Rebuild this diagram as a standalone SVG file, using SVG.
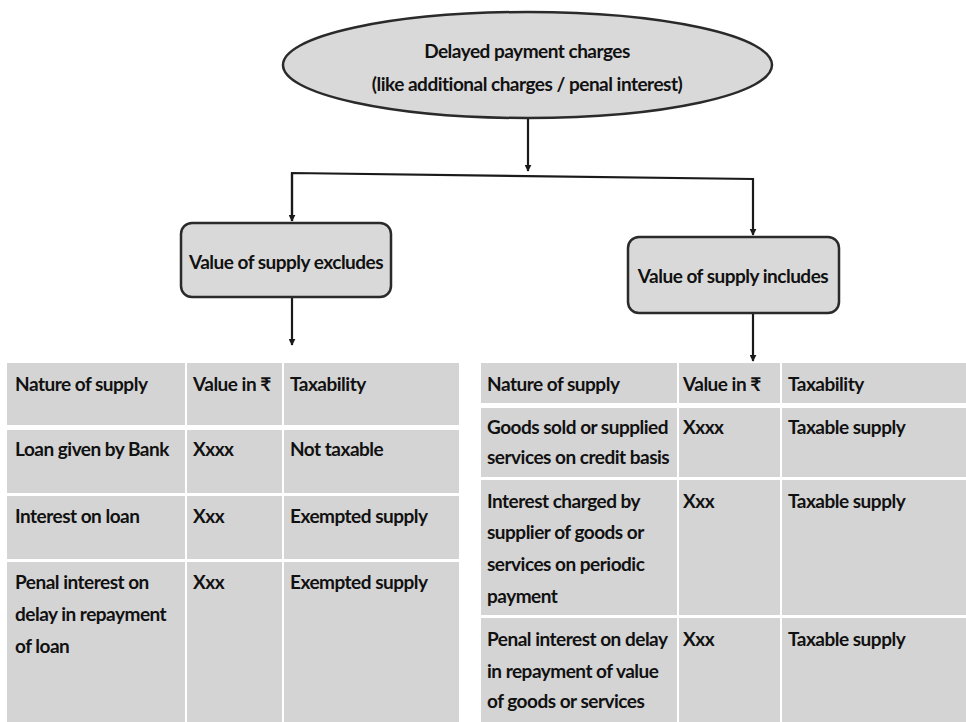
<svg xmlns="http://www.w3.org/2000/svg" width="966" height="722" viewBox="0 0 966 722">
<defs>
<marker id="ah" viewBox="0 0 10 10" refX="9" refY="5" markerWidth="7" markerHeight="7" markerUnits="userSpaceOnUse" orient="auto">
<path d="M0,0 L10,5 L0,10 z" fill="#1a1a1a"/>
</marker>
<style>
text{font-family:Lato,"Open Sans","DejaVu Sans",sans-serif;font-weight:700;font-size:19px;fill:#111;letter-spacing:-0.5px}
.c{text-anchor:middle}
.cell{fill:#d4d4d4}
.node{fill:#d9d9d9;stroke:#2a2a2a;stroke-width:2.5}
.conn{fill:none;stroke:#1a1a1a;stroke-width:2.2}
</style>
</defs>
<rect width="966" height="722" fill="#ffffff"/>

<g id="connectors">
<path class="conn" d="M528,118 V171" marker-end="url(#ah)"/>
<path class="conn" d="M292,221 V173 L753,179 V235" marker-end="url(#ah)"/>
<path class="conn" d="M292,173 V221" marker-end="url(#ah)"/>
<path class="conn" d="M292,297 V345" marker-end="url(#ah)"/>
<path class="conn" d="M753,313 V361" marker-end="url(#ah)"/>
</g>

<g id="root">
<ellipse class="node" cx="527.5" cy="65" rx="244.5" ry="53" stroke-width="2.2"/>
<text class="c" x="527" y="58">Delayed payment charges</text>
<text class="c" x="527" y="91">(like additional charges / penal interest)</text>
</g>

<g id="excludes">
<rect class="node" x="181" y="223" width="210" height="74" rx="11"/>
<text class="c" x="286" y="269">Value of supply excludes</text>
</g>

<g id="includes">
<rect class="node" x="628" y="237" width="211" height="76" rx="11"/>
<text class="c" x="733" y="283">Value of supply includes</text>
</g>

<g id="table-excludes">
<rect class="cell" x="7" y="363" width="178" height="62"/>
<rect class="cell" x="187" y="363" width="95" height="62"/>
<rect class="cell" x="284" y="363" width="175" height="62"/>
<rect class="cell" x="7" y="430" width="178" height="63"/>
<rect class="cell" x="187" y="430" width="95" height="63"/>
<rect class="cell" x="284" y="430" width="175" height="63"/>
<rect class="cell" x="7" y="496" width="178" height="63"/>
<rect class="cell" x="187" y="496" width="95" height="63"/>
<rect class="cell" x="284" y="496" width="175" height="63"/>
<rect class="cell" x="7" y="562" width="178" height="160"/>
<rect class="cell" x="187" y="562" width="95" height="160"/>
<rect class="cell" x="284" y="562" width="175" height="160"/>
<text x="15" y="391">Nature of supply</text>
<text x="193" y="391">Value in ₹</text>
<text x="290" y="391">Taxability</text>
<text x="15" y="456">Loan given by Bank</text>
<text x="193" y="456">Xxxx</text>
<text x="290" y="456">Not taxable</text>
<text x="15" y="523">Interest on loan</text>
<text x="193" y="523">Xxx</text>
<text x="290" y="523">Exempted supply</text>
<text x="15" y="589">Penal interest on</text>
<text x="15" y="621">delay in repayment</text>
<text x="15" y="653">of loan</text>
<text x="193" y="589">Xxx</text>
<text x="290" y="589">Exempted supply</text>
</g>

<g id="table-includes">
<rect class="cell" x="481" y="363" width="196" height="40"/>
<rect class="cell" x="679" y="363" width="101" height="40"/>
<rect class="cell" x="782" y="363" width="184" height="40"/>
<rect class="cell" x="481" y="408" width="196" height="69"/>
<rect class="cell" x="679" y="408" width="101" height="69"/>
<rect class="cell" x="782" y="408" width="184" height="69"/>
<rect class="cell" x="481" y="480" width="196" height="135"/>
<rect class="cell" x="679" y="480" width="101" height="135"/>
<rect class="cell" x="782" y="480" width="184" height="135"/>
<rect class="cell" x="481" y="618" width="196" height="104"/>
<rect class="cell" x="679" y="618" width="101" height="104"/>
<rect class="cell" x="782" y="618" width="184" height="104"/>
<text x="487" y="391">Nature of supply</text>
<text x="683" y="391">Value in ₹</text>
<text x="788" y="391">Taxability</text>
<text x="487" y="434">Goods sold or supplied</text>
<text x="487" y="464">services on credit basis</text>
<text x="683" y="434">Xxxx</text>
<text x="788" y="434">Taxable supply</text>
<text x="487" y="508">Interest charged by</text>
<text x="487" y="539">supplier of goods or</text>
<text x="487" y="571">services on periodic</text>
<text x="487" y="603">payment</text>
<text x="683" y="508">Xxx</text>
<text x="788" y="508">Taxable supply</text>
<text x="487" y="646">Penal interest on delay</text>
<text x="487" y="678">in repayment of value</text>
<text x="487" y="708">of goods or services</text>
<text x="683" y="646">Xxx</text>
<text x="788" y="646">Taxable supply</text>
</g>
</svg>
